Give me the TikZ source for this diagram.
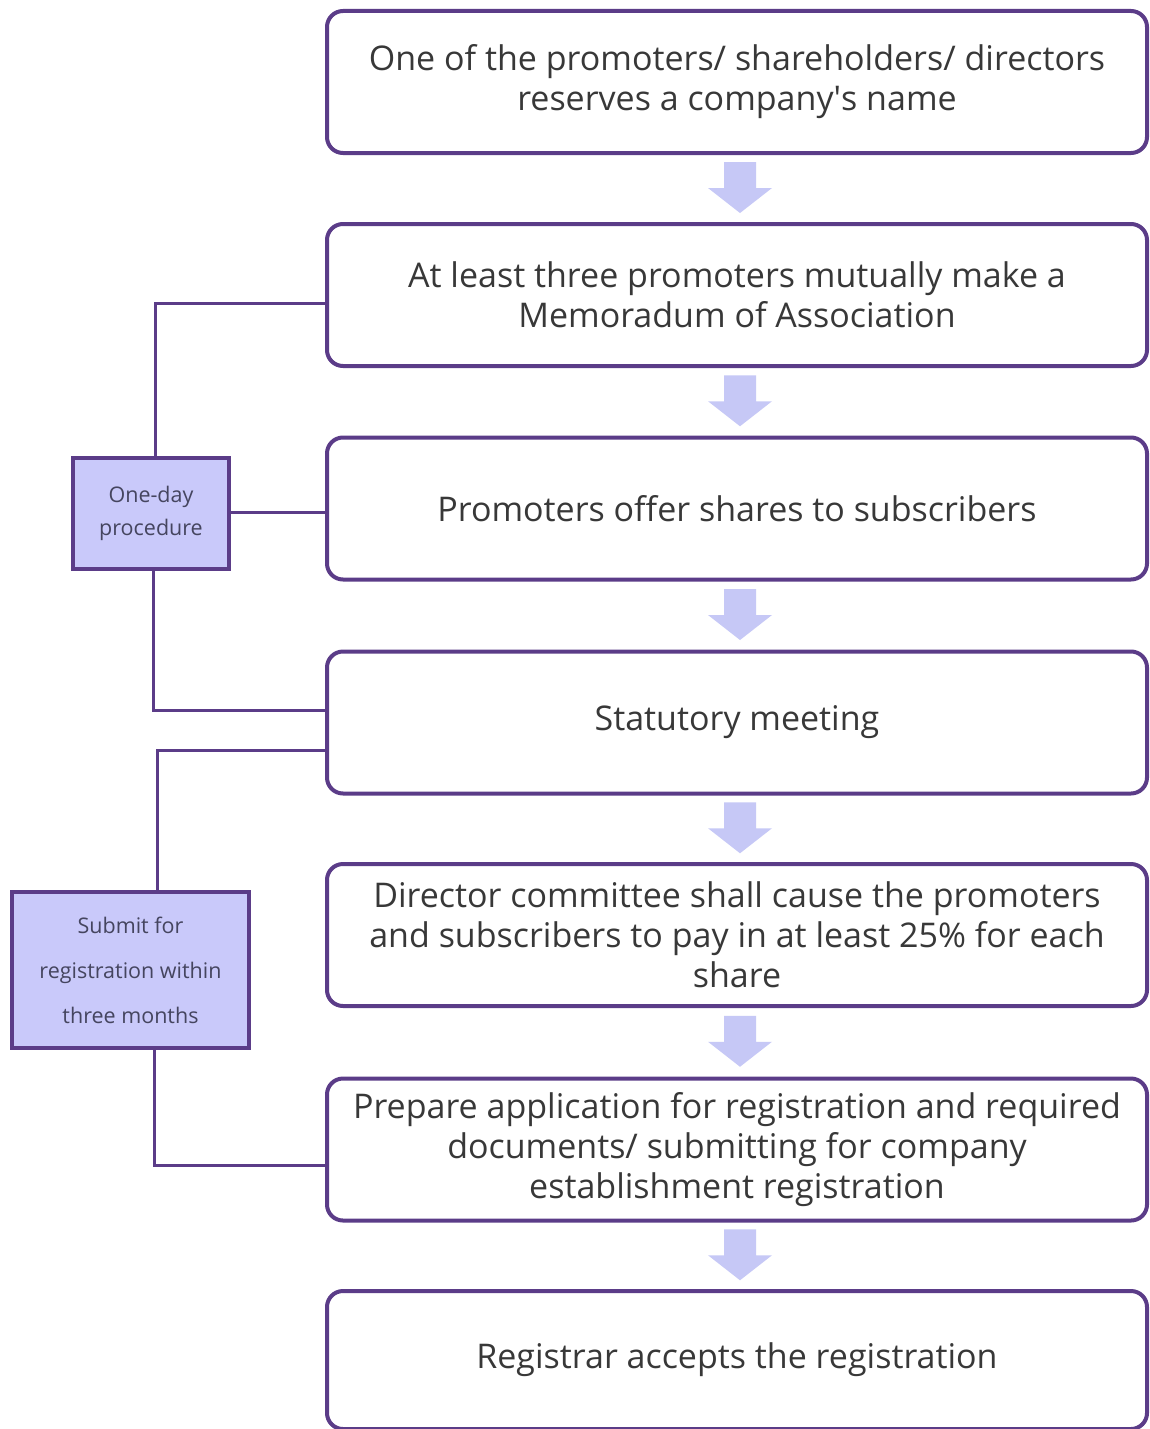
\documentclass[tikz,border=0pt]{standalone}
\usepackage{fontspec}
\setmainfont{Open Sans}
\usetikzlibrary{calc}
\definecolor{bord}{HTML}{5B3C88}
\definecolor{txt}{HTML}{383838}
\definecolor{arrc}{HTML}{C6C8F6}
\definecolor{sidefill}{HTML}{C9C9FA}
\definecolor{sidetxt}{HTML}{45455F}
\tikzset{
  mainbox/.style={draw=bord, line width=4pt, rounded corners=16pt, fill=white,
    minimum width=820pt, minimum height=142pt, align=center, text=txt,
    font=\fontsize{34}{40}\selectfont, inner sep=0pt},
  sidebox/.style={draw=bord, line width=3.5pt, fill=sidefill, align=center, text=sidetxt, inner sep=0pt},
  link/.style={draw=bord, line width=3pt},
  downarrow/.pic={\fill[arrc] (-16,-25.5) -- (16,-25.5) -- (16,0.5) -- (32,0.5) -- (0,25.5) -- (-32,0.5) -- (-16,0.5) -- cycle;}
}
\begin{document}
\begin{tikzpicture}[x=1pt,y=-1pt]
\useasboundingbox[fill=white] (0,0) rectangle (1150,1429);
\node[mainbox] (b1) at (737,82) {One of the promoters/ shareholders/ directors\\reserves a company\textquotesingle s name};
\node[mainbox] (b2) at (737,295) {At least three promoters mutually make a\\Memoradum of Association};
\node[mainbox] (b3) at (737,508.5) {Promoters offer shares to subscribers};
\node[mainbox] (b4) at (737,722.5) {Statutory meeting};
\node[mainbox] (b5) at (737,935) {Director committee shall cause the promoters\\and subscribers to pay in at least 25\% for each\\share};
\node[mainbox] (b6) at (737,1149.5) {Prepare application for registration and required\\documents/ submitting for company\\establishment registration};
\node[mainbox, minimum height=138pt] (b7) at (737,1360) {Registrar accepts the registration};

\node[sidebox, minimum width=156pt, minimum height=111pt, font=\fontsize{21.5}{33}\selectfont] (od) at (151,513.5) {One-day\\procedure};
\node[sidebox, minimum width=237pt, minimum height=156pt, font=\fontsize{21.5}{45}\selectfont] (sub) at (130.5,970) {Submit for\\registration within\\three months};

\draw[link] (od.north -| 155,0) |- (b2.west |- 0,303);
\draw[link] (od.east |- 0,512) -- (b3.west |- 0,512);
\draw[link] (od.south -| 153,0) |- (b4.west |- 0,710);
\draw[link] (sub.north -| 157,0) |- (b4.west |- 0,750);
\draw[link] (sub.south -| 154,0) |- (b6.west |- 0,1165);

\pic at ($(b1.south)!0.5!(b2.north)+(3,-1)$) {downarrow};
\pic at ($(b2.south)!0.5!(b3.north)+(3,-1)$) {downarrow};
\pic at ($(b3.south)!0.5!(b4.north)+(3,-1)$) {downarrow};
\pic at ($(b4.south)!0.5!(b5.north)+(3,-1)$) {downarrow};
\pic at ($(b5.south)!0.5!(b6.north)+(3,-1)$) {downarrow};
\pic at ($(b6.south)!0.5!(b7.north)+(3,-1)$) {downarrow};
\end{tikzpicture}
\end{document}
